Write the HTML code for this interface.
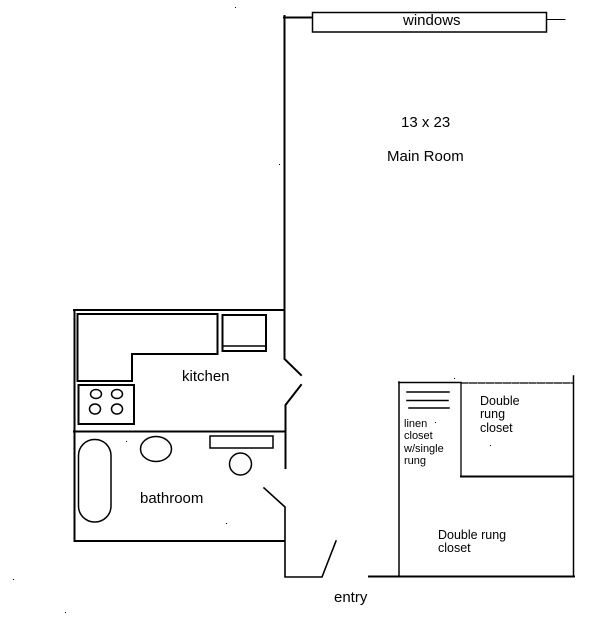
<!DOCTYPE html>
<html>
<head>
<meta charset="utf-8">
<style>
html,body{margin:0;padding:0;background:#fff;width:600px;height:619px;overflow:hidden}
svg{display:block}
text{font-family:"Liberation Sans",sans-serif;fill:#000}
</style>
</head>
<body>
<svg width="600" height="619" viewBox="0 0 600 619" xmlns="http://www.w3.org/2000/svg">
<g fill="none" stroke="#000" stroke-width="2" stroke-linecap="square">
  <!-- main left wall -->
  <path d="M284.5 16V359L301 375"/>
  <path d="M284 17.5H312"/>
  <path d="M547 19.5H565" stroke-width="1"/>
  <rect x="312.5" y="12.5" width="234" height="19.5" stroke-width="1.5"/>
  <!-- kitchen -->
  <path d="M74 310H284"/>
  <path d="M74.5 310V541H284"/>
  <path d="M74 431.5H285"/>
  <path d="M301 385L285.5 405V468"/>
  <path d="M264 488L285 507V577H322L336 541" stroke-width="1.6"/>
  <path d="M77.5 314H217.5V354H132V381H77.5Z"/>
  <rect x="222.5" y="315" width="43.5" height="36"/>
  <path d="M223 346H266" stroke-width="1.4"/>
  <rect x="78.5" y="385" width="55.5" height="39"/>
  <g stroke-width="1.5">
    <ellipse cx="96" cy="394" rx="5.5" ry="4.5"/>
    <ellipse cx="117" cy="394" rx="5.5" ry="4.5"/>
    <ellipse cx="95" cy="409" rx="5.5" ry="5"/>
    <ellipse cx="117" cy="409" rx="5.5" ry="5"/>
    <!-- bathroom fixtures -->
    <rect x="78.5" y="439.5" width="32.5" height="82.5" rx="16" ry="16"/>
    <ellipse cx="156" cy="449" rx="15.5" ry="12.5"/>
    <rect x="210" y="436" width="63" height="12"/>
    <ellipse cx="240.500" cy="464" rx="11" ry="11"/>
  </g>
  <!-- closets -->
  <path d="M399 382V576" stroke-width="1.5" stroke-dasharray="9 1"/>
  <path d="M399 382.500H461" stroke-width="1.6"/>
  <path d="M461 383H573" stroke-width="1.2" stroke-dasharray="7 1.500"/>
  <path d="M461 383V476" stroke-width="1.3"/>
  <path d="M461 476.500H573"/>
  <path d="M573.500 376V576" stroke-width="1.5"/>
  <path d="M369 576.500H574"/>
  <path d="M407 392H449" stroke-width="1.5"/>
  <path d="M407 400.500H448" stroke-width="1.5"/>
  <path d="M409 408H449" stroke-width="1.5"/>
</g>
<g font-size="15">
  <text x="403" y="25">windows</text>
  <text x="401" y="127">13 x 23</text>
  <text x="387" y="161">Main Room</text>
  <text x="182" y="381">kitchen</text>
  <text x="140" y="503">bathroom</text>
  <text x="334" y="602">entry</text>
</g>
<g font-size="12.5">
  <text x="480" y="405">Double</text>
  <text x="480" y="418">rung</text>
  <text x="480" y="432">closet</text>
  <text x="438" y="539">Double rung</text>
  <text x="438" y="552">closet</text>
</g>
<g font-size="11">
  <text x="404" y="427">linen</text>
  <text x="404" y="439">closet</text>
  <text x="404" y="452">w/single</text>
  <text x="404" y="464">rung</text>
</g>
<g fill="#000">
  <rect x="235" y="7" width="1" height="1"/>
  <rect x="279" y="164" width="1" height="1"/>
  <rect x="454" y="378" width="1" height="1"/>
  <rect x="490" y="445" width="1" height="1"/>
  <rect x="126" y="441" width="1" height="1"/>
  <rect x="226" y="523" width="1" height="1"/>
  <rect x="435" y="422" width="1" height="1"/>
  <rect x="13" y="579" width="1" height="1"/>
  <rect x="65" y="612" width="1" height="1"/>
</g>
</svg>
</body>
</html>
